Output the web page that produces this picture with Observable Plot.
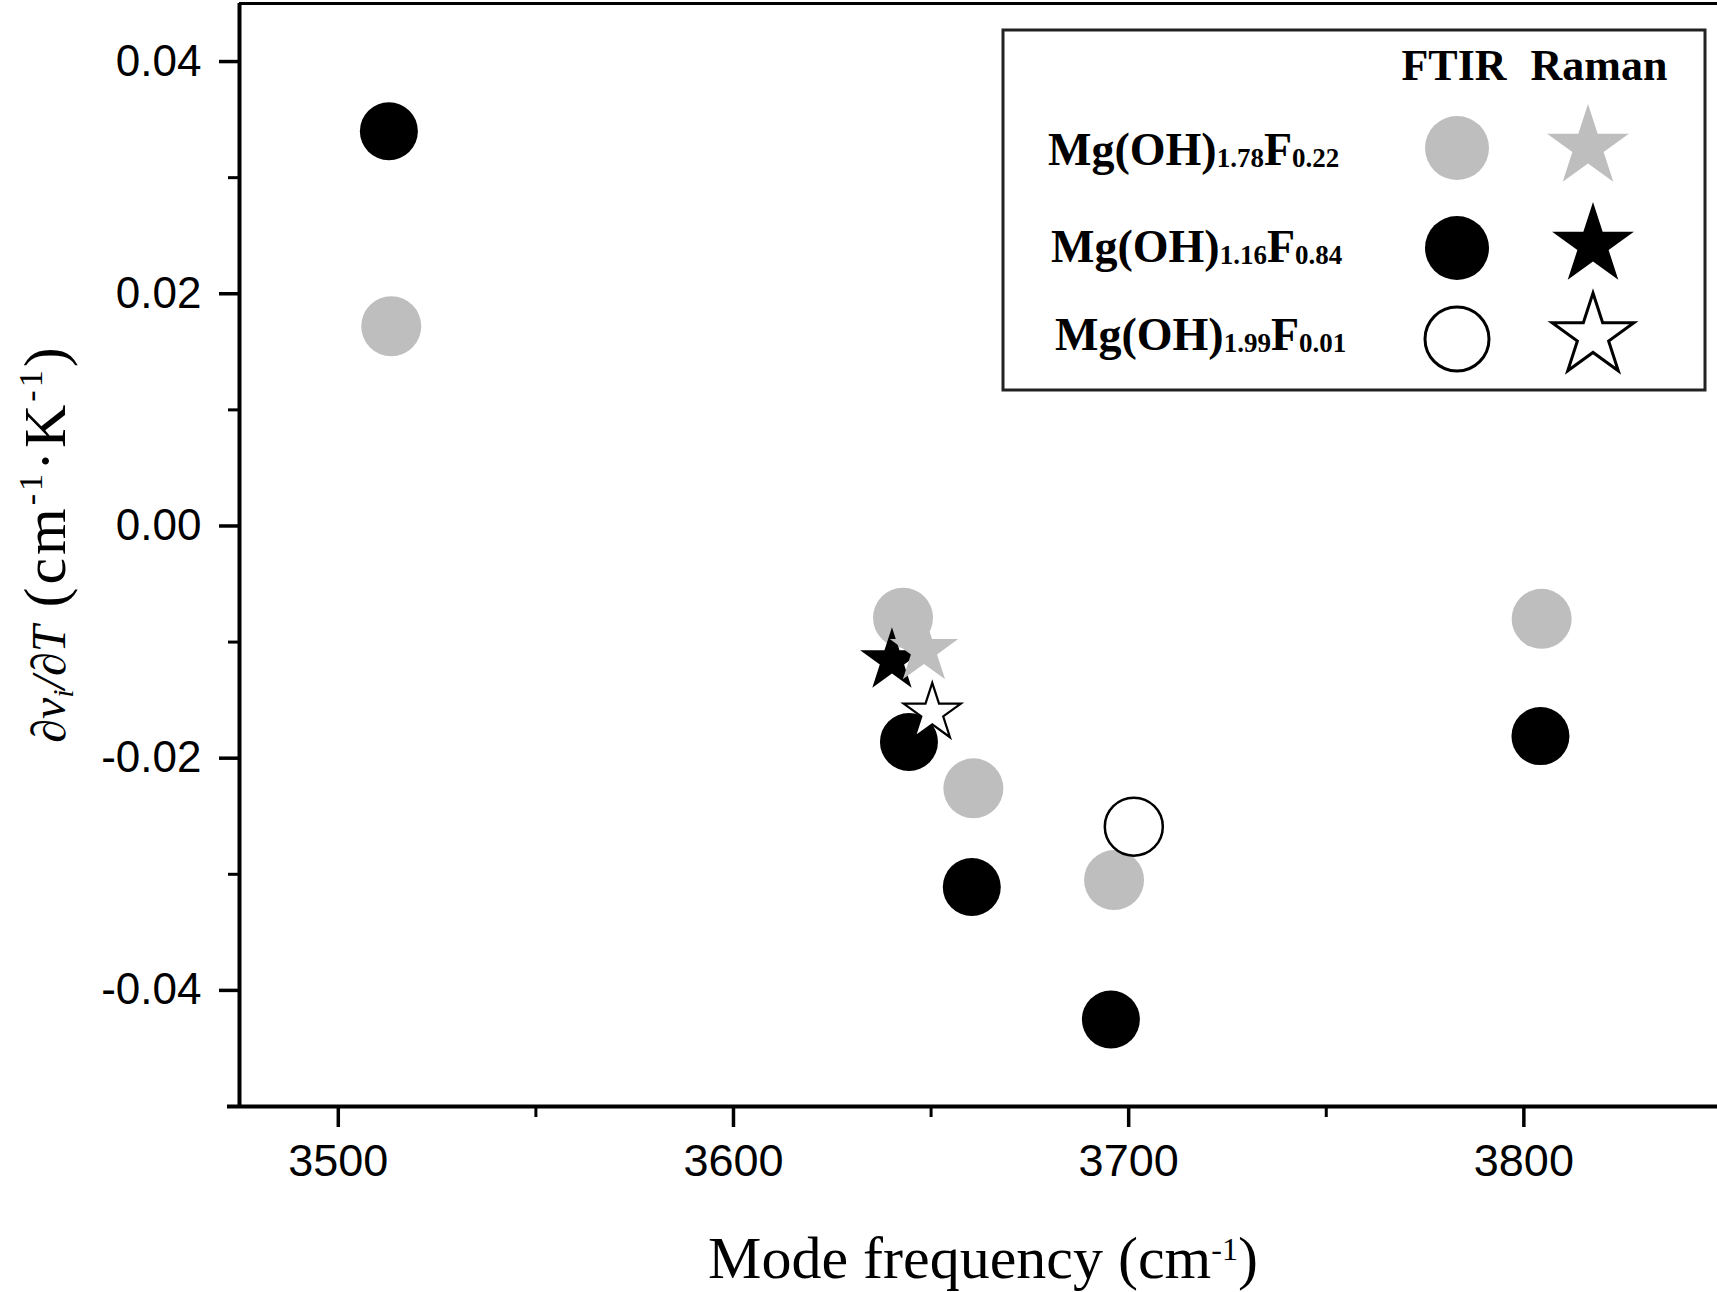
<!DOCTYPE html>
<html><head><meta charset="utf-8">
<script src="https://cdn.jsdelivr.net/npm/d3@7"></script>
<script src="https://cdn.jsdelivr.net/npm/@observablehq/plot@0.6"></script>
<style>body{margin:0;background:#fff} svg{display:block}</style>
</head><body><div id="chart"></div>
<script>
// ---- data ----
const samples = ["Mg(OH)1.78F0.22", "Mg(OH)1.16F0.84", "Mg(OH)1.99F0.01"];
const formulaSubs = [["1.78", "0.22"], ["1.16", "0.84"], ["1.99", "0.01"]];
const ftir178X = [3513.4, 3642.9, 3660.7, 3696.3, 3804.5];
const ftir178Y = [0.0172, -0.0079, -0.0226, -0.0305, -0.0080];
const ftir116X = [3512.8, 3644.4, 3660.3, 3695.5, 3804.2];
const ftir116Y = [0.0340, -0.0186, -0.0311, -0.0425, -0.0181];
const ftir199X = [3701.3];
const ftir199Y = [-0.0259];
const raman178X = [3648.2];
const raman178Y = [-0.0107];
const raman116X = [3640.1];
const raman116Y = [-0.0116];
const raman199X = [3650.3];
const raman199Y = [-0.0161];
const xTicks = [3500, 3600, 3700, 3800];
const xMinorTicks = [3550, 3650, 3750];
const yTicks = [-0.04, -0.02, 0, 0.02, 0.04];
const yMinorTicks = [-0.03, -0.01, 0.01, 0.03];
const xDomain = [3475, 3849];
const yDomain = [-0.05, 0.045];

const toPts = (xs, ys, sample, tech) => xs.map((x, i) => ({x, y: ys[i], sample, tech}));
const f178 = toPts(ftir178X, ftir178Y, samples[0], "FTIR");
const f116 = toPts(ftir116X, ftir116Y, samples[1], "FTIR");
const f199 = toPts(ftir199X, ftir199Y, samples[2], "FTIR");
const r178 = toPts(raman178X, raman178Y, samples[0], "Raman");
const r116 = toPts(raman116X, raman116Y, samples[1], "Raman");
const r199 = toPts(raman199X, raman199Y, samples[2], "Raman");

const GRAY = "#bebebe";

const chart = Plot.plot({
  width: 1717,
  height: 1292,
  marginLeft: 239,
  marginRight: 0,
  marginTop: 3,
  marginBottom: 186,
  style: {fontFamily: "Liberation Sans", background: "#fff", color: "#000"},
  x: {domain: xDomain},
  y: {domain: yDomain},
  marks: [
    Plot.axisX(xTicks, {tickSize: 21, tickPadding: 17, fontSize: 45, strokeWidth: 3.5, tickFormat: d => String(d), label: null}),
    Plot.axisX(xMinorTicks, {tickSize: 11, strokeWidth: 3, tickFormat: () => "", label: null}),
    Plot.axisY(yTicks, {tickSize: 20, tickPadding: 18, fontSize: 44, strokeWidth: 3.5, tickFormat: d => d.toFixed(2), label: null}),
    Plot.axisY(yMinorTicks, {tickSize: 11, strokeWidth: 3, tickFormat: () => "", label: null}),
    Plot.ruleY([yDomain[1]], {stroke: "#000", strokeWidth: 3}),
    Plot.ruleX([xDomain[0]], {stroke: "#000", strokeWidth: 4}),
    Plot.ruleY([yDomain[0]], {stroke: "#000", strokeWidth: 4, insetLeft: -12}),
    Plot.dot(f178, {x: "x", y: "y", r: 30, fill: GRAY}),
    Plot.dot(f116, {x: "x", y: "y", r: 29, fill: "#000"}),
    Plot.dot(f199, {x: "x", y: "y", r: 29, fill: "#fff", stroke: "#000", strokeWidth: 2.5}),
    Plot.dot(r116, {x: "x", y: "y", symbol: "star", r: 20, fill: "#000"}),
    Plot.dot(r178, {x: "x", y: "y", symbol: "star", r: 21.5, fill: GRAY}),
    Plot.dot(r199, {x: "x", y: "y", symbol: "star", r: 18, fill: "#fff", stroke: "#000", strokeWidth: 2.2})
  ]
});
document.getElementById("chart").appendChild(chart);

const svg = d3.select(chart);

// ---- axis titles ----
const serif = "Liberation Serif, Times New Roman, serif";
const yl = svg.append("text")
  .attr("transform", "translate(65,545) rotate(-90)")
  .attr("text-anchor", "middle")
  .attr("font-family", serif)
  .attr("fill", "#000");
yl.append("tspan").attr("font-size", 48).attr("font-style", "italic").text("∂v");
yl.append("tspan").attr("font-size", 30).attr("font-style", "italic").attr("dy", 8).text("i");
yl.append("tspan").attr("font-size", 48).attr("font-style", "italic").attr("dy", -8).text("/∂T");
yl.append("tspan").attr("font-size", 60).attr("letter-spacing", 3).text(" (cm");
yl.append("tspan").attr("font-size", 34).attr("letter-spacing", 3).attr("dy", -23).text("-1");
yl.append("tspan").attr("font-size", 60).attr("letter-spacing", 3).attr("dy", 23).text("·K");
yl.append("tspan").attr("font-size", 34).attr("letter-spacing", 3).attr("dy", -23).text("-1");
yl.append("tspan").attr("font-size", 60).attr("dy", 23).text(")");

const xl = svg.append("text")
  .attr("x", 983).attr("y", 1278)
  .attr("text-anchor", "middle")
  .attr("font-family", serif)
  .attr("fill", "#000");
xl.append("tspan").attr("font-size", 60).text("Mode frequency (cm");
xl.append("tspan").attr("font-size", 32).attr("dy", -18).text("-1");
xl.append("tspan").attr("font-size", 60).attr("dy", 18).text(")");

// ---- legend ----
const lg = svg.append("g").attr("font-family", serif).attr("font-weight", "bold").attr("fill", "#000");
lg.append("rect").attr("x", 1003).attr("y", 30).attr("width", 702).attr("height", 360)
  .attr("fill", "#fff").attr("stroke", "#222").attr("stroke-width", 3);
lg.append("text").attr("x", 1454).attr("y", 80).attr("text-anchor", "middle").attr("font-size", 44).text("FTIR");
lg.append("text").attr("x", 1599).attr("y", 80).attr("text-anchor", "middle").attr("font-size", 44).text("Raman");

const rowFill = [GRAY, "#000", "#fff"];
const rowStroke = ["none", "none", "#000"];
const rowCy = [148, 248, 339];
const rowStarX = [1588, 1593, 1593];
const rowStarY = [147, 245, 336];
const rowTextX = [1048, 1051, 1055];
const rowBase = [165, 262, 350];
const star = d3.symbol(d3.symbolStar, 43 * 43 / 0.8908130915)();
samples.forEach((s, i) => {
  const t = lg.append("text").attr("x", rowTextX[i]).attr("y", rowBase[i]).attr("text-anchor", "start");
  t.append("tspan").attr("font-size", 46).text("Mg(OH)");
  t.append("tspan").attr("font-size", 27).attr("dy", 2).text(formulaSubs[i][0]);
  t.append("tspan").attr("font-size", 46).attr("dy", -2).text("F");
  t.append("tspan").attr("font-size", 27).attr("dy", 2).text(formulaSubs[i][1]);
  lg.append("circle").attr("cx", 1457).attr("cy", rowCy[i]).attr("r", 32)
    .attr("fill", rowFill[i]).attr("stroke", rowStroke[i]).attr("stroke-width", 3);
  lg.append("path").attr("d", star).attr("transform", `translate(${rowStarX[i]},${rowStarY[i]})`)
    .attr("fill", rowFill[i]).attr("stroke", rowStroke[i]).attr("stroke-width", 3);
});
</script>
</body></html>
